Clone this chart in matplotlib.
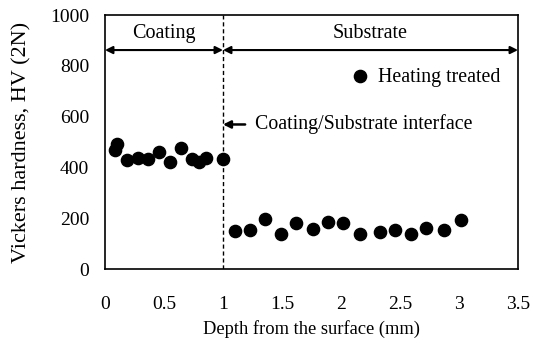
import matplotlib
matplotlib.use("Agg")
import matplotlib.pyplot as plt

plt.rcParams['font.family'] = ['Liberation Serif', 'DejaVu Serif']

coat_x = [0.087, 0.10, 0.185, 0.276, 0.368, 0.458, 0.55, 0.64, 0.74, 0.795, 0.86, 1.0]
coat_y = [468, 494, 429, 438, 435, 459, 420, 475, 435, 420, 438, 435]
sub_x = [1.105, 1.23, 1.36, 1.49, 1.616, 1.765, 1.886, 2.018, 2.164, 2.333, 2.46, 2.59, 2.72, 2.875, 3.02]
sub_y = [150, 152, 197, 138, 183, 158, 187, 183, 138, 144, 152, 138, 161, 152, 193]
xticks = [0, 0.5, 1, 1.5, 2, 2.5, 3, 3.5]
xticklabels = ['0', '0.5', '1', '1.5', '2', '2.5', '3', '3.5']
yticks = [0, 200, 400, 600, 800, 1000]

fig = plt.figure(figsize=(5.33, 3.43), dpi=100)
ax = fig.add_axes([105/533, 1-269/343, (518-105)/533, (269-15)/343])

ax.plot(coat_x + sub_x, coat_y + sub_y, 'o', color='black', markersize=8.8, linestyle='none',
        label='Heating treated')
ax.set_xlim(0, 3.5)
ax.set_ylim(0, 1000)
ax.set_xticks(xticks)
ax.set_xticklabels(xticklabels)
ax.set_yticks(yticks)
ax.tick_params(axis='x', length=0, labelsize=14, pad=19.5)
ax.tick_params(axis='y', length=0, labelsize=14, pad=11.5)
ax.axvline(1.0, color='black', linestyle=(0, (3, 2)), linewidth=1)

ax.annotate('', xy=(0.0, 862), xytext=(1.0, 862),
            arrowprops=dict(arrowstyle='<|-|>', color='black', lw=1.5, mutation_scale=11, shrinkA=0, shrinkB=0))
ax.annotate('', xy=(1.0, 862), xytext=(3.5, 862),
            arrowprops=dict(arrowstyle='<|-|>', color='black', lw=1.5, mutation_scale=11, shrinkA=0, shrinkB=0))
ax.text(0.5, 929, 'Coating', ha='center', va='center', fontsize=14.5)
ax.text(2.25, 929, 'Substrate', ha='center', va='center', fontsize=14.5)
ax.annotate('Coating/Substrate interface', xy=(1.0, 569), xytext=(1.27, 569),
            ha='left', va='center', fontsize=14.3,
            arrowprops=dict(arrowstyle='-|>', color='black', lw=1.8, mutation_scale=11, shrinkA=5, shrinkB=0))

ax.legend(loc='center right', bbox_to_anchor=(0.958, 0.752), frameon=False, fontsize=14.3,
          handlelength=1.0, handletextpad=0.4, borderaxespad=0, borderpad=0)

ax.set_xlabel('Depth from the surface (mm)', fontsize=13.3, labelpad=5)
ax.set_ylabel('Vickers hardness, HV (2N)', fontsize=16, labelpad=13)
for s in ax.spines.values():
    s.set_linewidth(1.2)

fig.savefig('out.png', dpi=100)
